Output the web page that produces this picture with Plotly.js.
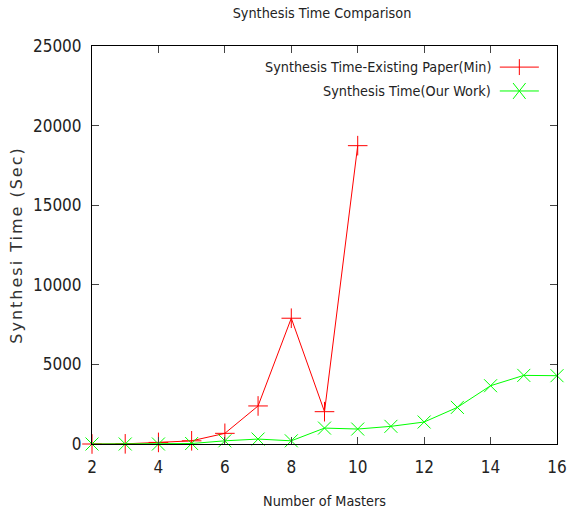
<!DOCTYPE html>
<html><head><meta charset="utf-8">
<script src="https://cdn.plot.ly/plotly-3.0.1.min.js"></script>
<style>html,body{margin:0;padding:0;background:#fff}#chart{width:574px;height:513px}</style>
</head><body><div id="chart"></div>
<script>
const masters = [2,3,4,5,6,7,8,9,10,11,12,13,14,15,16];
const existingX = [2,3,4,5,6,7,8,9,10];
const existingPaper = [0,10,100,200,670,2390,7900,2030,18740];
const ourWork = [0,0,0,30,200,310,200,1000,940,1110,1380,2300,3660,4310,4290];
const seriesNames = ['Synthesis Time-Existing Paper(Min)','Synthesis Time(Our Work)'];
const xTicks = [2,4,6,8,10,12,14,16];
const yTicks = [0,5000,10000,15000,20000,25000];
const yTickText = ['0','5000','10000','15000','20000','25000'];
const fontFam = '"Liberation Sans Narrow", "DejaVu Sans Condensed", sans-serif';

const traces = [
  {x: existingX, y: existingPaper, name: seriesNames[0], mode: 'lines+markers', cliponaxis: false,
   line: {color: '#ff0000', width: 1}, marker: {symbol: 'cross-thin-open', size: 14, color: '#ff0000', line: {color:'#ff0000', width: 1}}},
  {x: masters, y: ourWork, name: seriesNames[1], mode: 'lines+markers', cliponaxis: false,
   line: {color: '#00ff00', width: 1}, marker: {symbol: 'x-thin-open', size: 13, color: '#00ff00', line: {color:'#00ff00', width: 1}}}
];

const legY = [0.947, 0.887];
const colors = ['#ff0000', '#00ff00'];
const shapes = [];
const annotations = [];
seriesNames.forEach((n, i) => {
  annotations.push({xref:'paper', yref:'paper', x: 0.862, y: legY[i], xanchor:'right', yanchor:'middle',
    text: n, showarrow:false, font:{family: fontFam, size: 14.3, color:'#222'}});
  shapes.push({type:'line', xref:'paper', yref:'paper', x0: 0.877, x1: 0.961, y0: legY[i], y1: legY[i], line:{color: colors[i], width:1}});
});
// legend symbols
const cx = 0.919, hx = 0.0135, hy = 0.02;
shapes.push({type:'line', xref:'paper', yref:'paper', x0: cx, x1: cx, y0: legY[0]-hy, y1: legY[0]+hy, line:{color: colors[0], width:1}});
shapes.push({type:'line', xref:'paper', yref:'paper', x0: cx-hx, x1: cx+hx, y0: legY[1]-hy, y1: legY[1]+hy, line:{color: colors[1], width:1}});
shapes.push({type:'line', xref:'paper', yref:'paper', x0: cx-hx, x1: cx+hx, y0: legY[1]+hy, y1: legY[1]-hy, line:{color: colors[1], width:1}});

const layout = {
  width: 574, height: 513,
  margin: {l: 92, r: 17, t: 46, b: 69},
  paper_bgcolor: '#fff', plot_bgcolor: '#fff',
  showlegend: false,
  title: {text: 'Synthesis Time Comparison', x: 0.561, xanchor: 'center', y: 0.975, yanchor: 'middle',
    font: {family: fontFam, size: 14.3, color: '#222'}},
  xaxis: {range: [2, 16], tickmode: 'array', tickvals: xTicks, ticks: 'inside', ticklen: 7,
    tickcolor: '#444', mirror: 'ticks', showline: true, linecolor: '#000', linewidth: 1, showgrid: false, zeroline: false,
    ticklabelstandoff: 8,
    tickfont: {family: fontFam, size: 17, color: '#222'},
    title: {text: 'Number of Masters', font: {family: fontFam, size: 14.3, color: '#222'}, standoff: 19}},
  yaxis: {range: [0, 25000], tickmode: 'array', tickvals: yTicks, ticktext: yTickText, ticks: 'inside', ticklen: 7,
    tickcolor: '#444', mirror: 'ticks', showline: true, linecolor: '#000', linewidth: 1, showgrid: false, zeroline: false,
    ticklabelstandoff: 6,
    tickfont: {family: fontFam, size: 17, color: '#222'},
    title: {text: 'Synthesi Time (Sec)', font: {family: '"DejaVu Sans", sans-serif', size: 16, color: '#333'}, standoff: 6}},
  shapes: shapes, annotations: annotations
};
Plotly.newPlot('chart', traces, layout, {displayModeBar: false, staticPlot: true}).then(gd => {
  const t = gd.querySelector('.g-ytitle text');
  if (t) t.style.letterSpacing = '2px';
});
</script></body></html>
